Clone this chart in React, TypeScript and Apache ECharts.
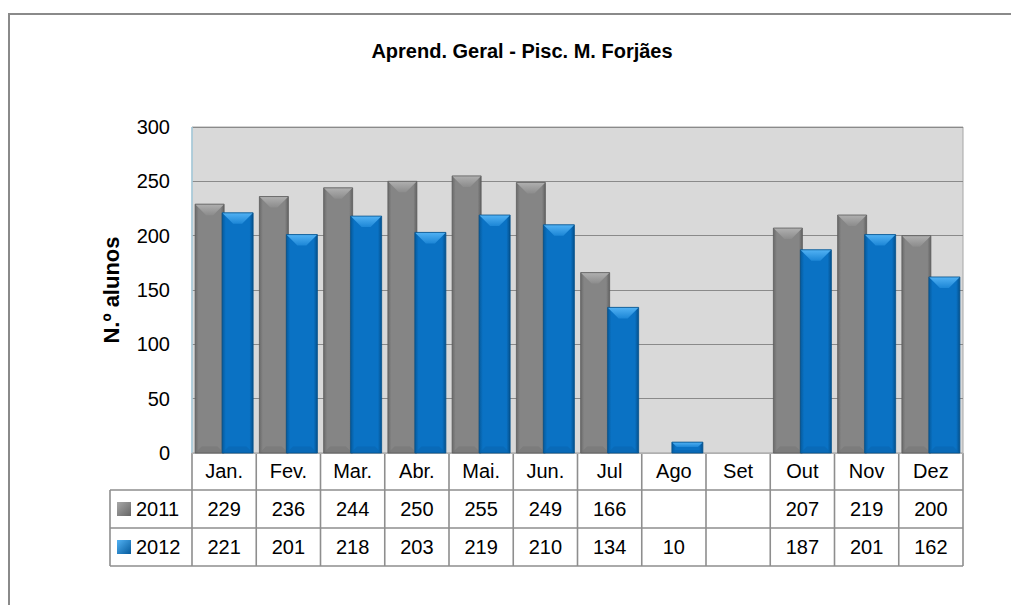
import React, { useEffect, useRef } from "react";
import * as echarts from "echarts";

const months = ["Jan.", "Fev.", "Mar.", "Abr.", "Mai.", "Jun.", "Jul", "Ago", "Set", "Out", "Nov", "Dez"];
const values2011: (number | null)[] = [229, 236, 244, 250, 255, 249, 166, null, null, 207, 219, 200];
const values2012: (number | null)[] = [221, 201, 218, 203, 219, 210, 134, 10, null, 187, 201, 162];
const seriesNames = ["2011", "2012"];
const yTicks = { min: 0, max: 300, interval: 50 };

const FONT = "'Liberation Sans', Arial, sans-serif";

const grayBody = {
  type: "linear", x: 0, y: 0, x2: 1, y2: 0,
  colorStops: [
    { offset: 0, color: "#6a6a6a" },
    { offset: 0.12, color: "#858585" },
    { offset: 0.88, color: "#858585" },
    { offset: 1, color: "#626262" },
  ],
};
const blueBody = {
  type: "linear", x: 0, y: 0, x2: 1, y2: 0,
  colorStops: [
    { offset: 0, color: "#055a9c" },
    { offset: 0.12, color: "#0a72c4" },
    { offset: 0.88, color: "#0a72c4" },
    { offset: 1, color: "#04508c" },
  ],
};
const palettes = [
  { body: grayBody, top: "#b0b0b0", topEdge: "#8c8c8c", bottom: "#777777", edge: "#5a5a5a" },
  { body: blueBody, top: "#52b2f4", topEdge: "#1c86d6", bottom: "#0865b0", edge: "#04508c" },
];
const offsets = [
  [-29, 0],
  [-2, 29],
];

function makeRender(k: number) {
  return (params: any, api: any) => {
    const idx = api.value(0);
    const v = api.value(1);
    const top = api.coord([idx, v]);
    const base = api.coord([idx, 0]);
    const band = api.size([1, 0])[0];
    const s = band / 64.25;
    const x0 = top[0] + offsets[k][0] * s;
    const x1 = top[0] + offsets[k][1] * s;
    const yt = top[1];
    const yb = base[1];
    const h = yb - yt;
    const bev = Math.max(1, Math.min(11, h / 2.2, (x1 - x0) / 2 - 3));
    const p = palettes[k];
    return {
      type: "group",
      children: [
        { type: "rect", shape: { x: x0, y: yt, width: x1 - x0, height: h }, style: { fill: p.body } },
        {
          type: "polygon",
          shape: { points: [[x0, yt], [x1, yt], [x1 - bev, yt + bev], [x0 + bev, yt + bev]] },
          style: {
            fill: { type: "linear", x: 0, y: 0, x2: 0, y2: 1, colorStops: [{ offset: 0, color: p.top }, { offset: 1, color: p.topEdge }] },
          },
        },
        {
          type: "polygon",
          shape: { points: [[x0, yb], [x1, yb], [x1 - bev * 0.6, yb - bev * 0.6], [x0 + bev * 0.6, yb - bev * 0.6]] },
          style: { fill: p.bottom, opacity: 0.6 },
        },
        { type: "rect", shape: { x: x0, y: yt, width: x1 - x0, height: h }, style: { fill: "none", stroke: p.edge, lineWidth: 0.8 } },
      ],
    };
  };
}

function toData(arr: (number | null)[]) {
  const out: number[][] = [];
  arr.forEach((v, i) => {
    if (v !== null) out.push([i, v]);
  });
  return out;
}

export default function App() {
  const ref = useRef<HTMLDivElement>(null);
  useEffect(() => {
    document.body.style.margin = "0";
    document.body.style.overflow = "hidden";
    const chart = echarts.init(ref.current!, null, { renderer: "svg" });
    chart.setOption({
      animation: false,
      backgroundColor: "#ffffff",
      title: {
        text: "Aprend. Geral - Pisc. M. Forjães",
        left: 517,
        top: 36,
        textAlign: "center",
        textStyle: { fontFamily: FONT, fontSize: 20, fontWeight: "bold", color: "#000" },
      },
      grid: {
        left: 192,
        right: 48,
        top: 127,
        bottom: 152,
        show: true,
        backgroundColor: "#d9d9d9",
        borderColor: "#a6a6a6",
        borderWidth: 1,
      },
      xAxis: {
        type: "category",
        data: months,
        axisLine: { show: true, lineStyle: { color: "#b0b0b0", width: 1 } },
        axisTick: { show: false },
        axisLabel: { fontFamily: FONT, fontSize: 20, color: "#000", margin: 8, interval: 0 },
      },
      yAxis: {
        type: "value",
        min: yTicks.min,
        max: yTicks.max,
        interval: yTicks.interval,
        name: "N.º alunos",
        nameLocation: "middle",
        nameRotate: 90,
        nameGap: 70,
        nameTextStyle: { fontFamily: FONT, fontSize: 22, fontWeight: "bold", color: "#000" },
        axisLine: { show: false },
        axisTick: { show: false },
        axisLabel: { fontFamily: FONT, fontSize: 20, color: "#000", margin: 22 },
        splitLine: { lineStyle: { color: "#8a8a8a", width: 1 } },
      },
      series: [
        { type: "custom", name: seriesNames[0], renderItem: makeRender(0), encode: { x: 0, y: 1 }, data: toData(values2011) },
        { type: "custom", name: seriesNames[1], renderItem: makeRender(1), encode: { x: 0, y: 1 }, data: toData(values2012) },
      ],
    });

    // Data table built from axis pixel positions
    const centers = months.map((_, i) => chart.convertToPixel({ xAxisIndex: 0 }, i) as number);
    const band = centers.length > 1 ? centers[1] - centers[0] : 64;
    const y0 = chart.convertToPixel({ yAxisIndex: 0 }, 0) as number;
    const leftX = centers[0] - band / 2;
    const rightX = centers[centers.length - 1] + band / 2;
    const legendLeft = 110;
    const rowH = 38;
    const r1 = y0 + 37;
    const r2 = r1 + rowH;
    const r3 = r2 + rowH;
    const lineStyle = { stroke: "#8e8e8e", lineWidth: 1.6 };
    const g: any[] = [];
    g.push({ type: "rect", shape: { x: 9, y: 14, width: 1200, height: 800 }, style: { fill: "none", stroke: "#8a8a8a", lineWidth: 2 }, z: 10 });
    g.push({ type: "line", shape: { x1: leftX, y1: 127, x2: leftX, y2: y0 }, style: { stroke: "#a9cfe0", lineWidth: 1.5 } });
    g.push({ type: "line", shape: { x1: leftX, y1: y0, x2: rightX, y2: y0 }, style: { stroke: "#b8b8b8", lineWidth: 1.5 } });
    [r1, r2, r3].forEach((y) => g.push({ type: "line", shape: { x1: legendLeft, y1: y, x2: rightX, y2: y }, style: lineStyle }));
    g.push({ type: "line", shape: { x1: legendLeft, y1: r1, x2: legendLeft, y2: r3 }, style: lineStyle });
    for (let i = 0; i <= months.length; i++) {
      const x = leftX + i * band;
      g.push({ type: "line", shape: { x1: x, y1: y0, x2: x, y2: r3 }, style: lineStyle });
    }
    const rows = [values2011, values2012];
    const markerColors = [
      ["#a8a8a8", "#666666"],
      ["#52b2f4", "#055a9c"],
    ];
    rows.forEach((arr, k) => {
      const cy = (k === 0 ? r1 : r2) + rowH / 2;
      g.push({
        type: "rect",
        shape: { x: 117, y: cy - 7, width: 14, height: 14 },
        style: {
          fill: { type: "linear", x: 0, y: 0, x2: 1, y2: 1, colorStops: [{ offset: 0, color: markerColors[k][0] }, { offset: 1, color: markerColors[k][1] }] },
        },
      });
      g.push({
        type: "text",
        style: { text: seriesNames[k], x: 136, y: cy, align: "left", verticalAlign: "middle", fontFamily: FONT, fontSize: 20, fill: "#000" },
      });
      arr.forEach((v, i) => {
        if (v === null) return;
        g.push({
          type: "text",
          style: { text: String(v), x: centers[i], y: cy, align: "center", verticalAlign: "middle", fontFamily: FONT, fontSize: 20, fill: "#000" },
        });
      });
    });
    chart.setOption({ graphic: g });
    return () => chart.dispose();
  }, []);
  return <div ref={ref} style={{ width: 1011, height: 605 }} />;
}
